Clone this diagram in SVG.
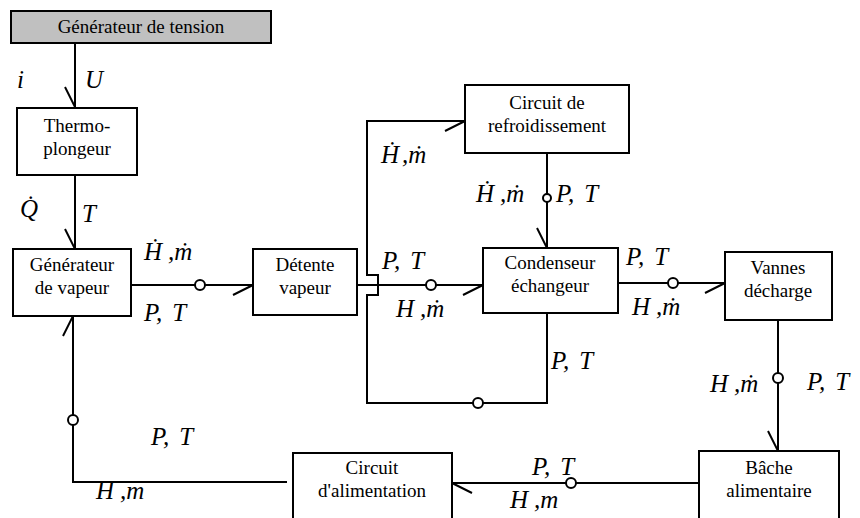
<svg xmlns="http://www.w3.org/2000/svg" width="860" height="518" viewBox="0 0 860 518">
<style>
.bx{fill:#fff;stroke:#000;stroke-width:2}
.gr{fill:#c0c0c0;stroke:#000;stroke-width:2}
.t{font-family:"Liberation Serif","Times New Roman","DejaVu Serif",serif;font-size:19px;text-anchor:middle;fill:#000}
.lb{font-family:"Liberation Serif","Times New Roman","DejaVu Serif",serif;font-size:25px;font-style:italic;fill:#000}
.ln{fill:none;stroke:#000;stroke-width:2}
.c{fill:#fff;stroke:#000;stroke-width:2}
</style>
<defs>
<marker id="tk" viewBox="-25 -15 30 30" markerWidth="30" markerHeight="30" refX="0" refY="0" orient="auto" markerUnits="userSpaceOnUse"><path d="M-20,10 L0,0" stroke="#000" stroke-width="2" fill="none"/></marker>
<marker id="tk2" viewBox="-25 -15 30 30" markerWidth="30" markerHeight="30" refX="0" refY="0" orient="auto" markerUnits="userSpaceOnUse"><path d="M-20,-10 L0,0" stroke="#000" stroke-width="2" fill="none"/></marker>
</defs>
<rect width="860" height="518" fill="#fff"/>

<g id="connectors">
<path class="ln" d="M75,43 V107" marker-end="url(#tk)"/>
<path class="ln" d="M75,175 V249" marker-end="url(#tk)"/>
<path class="ln" d="M131,285 H253" marker-end="url(#tk)"/>
<circle class="c" cx="200" cy="285" r="5"/>
<path class="ln" d="M357,285 H483" marker-end="url(#tk)"/>
<circle class="c" cx="431" cy="285" r="5"/>
<path class="ln" d="M547,313 V403 H367 V295 H378 V275 H367 V121 H465" marker-end="url(#tk)"/>
<circle class="c" cx="478" cy="403" r="5"/>
<path class="ln" d="M547,153 V248" marker-end="url(#tk)"/>
<circle class="c" cx="547" cy="198" r="4"/>
<path class="ln" d="M618,283 H725" marker-end="url(#tk)"/>
<circle class="c" cx="673" cy="283" r="5"/>
<path class="ln" d="M778,320 V451" marker-end="url(#tk)"/>
<circle class="c" cx="778" cy="378" r="5"/>
<path class="ln" d="M699,483 H452" marker-end="url(#tk2)"/>
<circle class="c" cx="571" cy="483" r="5"/>
<path class="ln" d="M287,482 H73 V316" marker-end="url(#tk2)"/>
<circle class="c" cx="73" cy="420" r="5"/>
</g>

<g id="labels">
<text class="lb" x="17" y="88">i</text>
<text class="lb" x="85" y="88">U</text>
<text class="lb" x="20" y="217">Q&#x307;</text>
<text class="lb" x="82" y="222">T</text>
<text class="lb" x="144" y="260">&#x1E22;<tspan dx="6">,&#x1E41;</tspan></text>
<text class="lb" x="144" y="321">P,<tspan dx="10">T</tspan></text>
<text class="lb" x="382" y="269">P,<tspan dx="10">T</tspan></text>
<text class="lb" x="396" y="317">H<tspan dx="6">,&#x1E41;</tspan></text>
<text class="lb" x="381" y="163">&#x1E22;<tspan dx="3">,&#x1E41;</tspan></text>
<text class="lb" x="476" y="202">&#x1E22;<tspan dx="6">,&#x1E41;</tspan></text>
<text class="lb" x="556" y="202">P,<tspan dx="10">T</tspan></text>
<text class="lb" x="626" y="265">P,<tspan dx="10">T</tspan></text>
<text class="lb" x="632" y="315">H<tspan dx="6">,&#x1E41;</tspan></text>
<text class="lb" x="551" y="369">P,<tspan dx="10">T</tspan></text>
<text class="lb" x="710" y="392">H<tspan dx="6">,&#x1E41;</tspan></text>
<text class="lb" x="807" y="390">P,<tspan dx="10">T</tspan></text>
<text class="lb" x="532" y="475">P,<tspan dx="10">T</tspan></text>
<text class="lb" x="510" y="508">H<tspan dx="6">,m</tspan></text>
<text class="lb" x="151" y="445">P,<tspan dx="10">T</tspan></text>
<text class="lb" x="96" y="499">H<tspan dx="6">,m</tspan></text>
</g>

<g id="gen-tension"><rect class="gr" x="11" y="11" width="260" height="32"/><text class="t" x="141" y="33">Générateur de tension</text></g>
<g id="thermo"><rect class="bx" x="17" y="108" width="120" height="67"/><text class="t" x="77" y="132">Thermo-</text><text class="t" x="77" y="155">plongeur</text></g>
<g id="gen-vapeur"><rect class="bx" x="13" y="249" width="118" height="67"/><text class="t" x="72" y="271">Générateur</text><text class="t" x="72" y="294">de vapeur</text></g>
<g id="detente"><rect class="bx" x="253" y="249" width="104" height="66"/><text class="t" x="305" y="271">Détente</text><text class="t" x="305" y="294">vapeur</text></g>
<g id="refroid"><rect class="bx" x="465" y="85" width="164" height="68"/><text class="t" x="547" y="109">Circuit de</text><text class="t" x="547" y="132">refroidissement</text></g>
<g id="condenseur"><rect class="bx" x="483" y="248" width="135" height="65"/><text class="t" x="550" y="269">Condenseur</text><text class="t" x="550" y="292">échangeur</text></g>
<g id="vannes"><rect class="bx" x="725" y="252" width="107" height="68"/><text class="t" x="778" y="274">Vannes</text><text class="t" x="778" y="297">décharge</text></g>
<g id="bache"><rect class="bx" x="699" y="451" width="140" height="72"/><text class="t" x="769" y="474">Bâche</text><text class="t" x="769" y="497">alimentaire</text></g>
<g id="alim"><rect class="bx" x="293" y="453" width="159" height="70"/><text class="t" x="372" y="474">Circuit</text><text class="t" x="372" y="497">d'alimentation</text></g>
</svg>
